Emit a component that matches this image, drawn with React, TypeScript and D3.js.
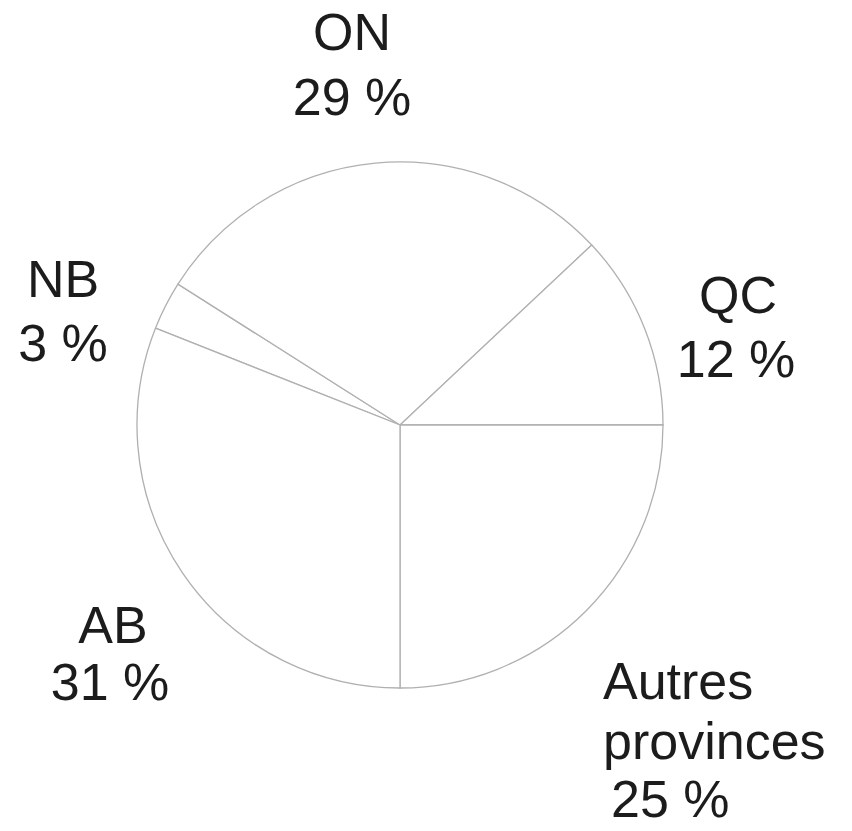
import React from 'react';
import * as d3 from 'd3';

// slices in clockwise order, starting at NB
const provinces = ['NB', 'ON', 'QC', 'Autres provinces', 'AB'];
const shares = [3, 29, 12, 25, 31];
const shareLabels = ['3 %', '29 %', '12 %', '25 %', '31 %'];

// label anchors (layout only)
const labelLines: string[][] = [['NB'], ['ON'], ['QC'], ['Autres', 'provinces'], ['AB']];
const labelPos = [
  { x: 63, y: 297, anchor: 'middle', dx2: 0, gap: 64 },
  { x: 352, y: 50, anchor: 'middle', dx2: 0, gap: 65 },
  { x: 738, y: 313, anchor: 'middle', dx2: -2, gap: 64 },
  { x: 603, y: 699, anchor: 'start', dx2: 8, gap: 60 },
  { x: 113, y: 643, anchor: 'middle', dx2: -3, gap: 57 },
];

const W = 852, H = 831;
const cx = 400, cy = 425, R = 263;

export default function App() {
  const total = d3.sum(shares);
  // "Autres provinces" slice begins at 3 o'clock
  const before = d3.sum(shares.slice(0, 3));
  const start = Math.PI / 2 - (before / total) * 2 * Math.PI;

  const pie = d3.pie<number>().sort(null).value(d => d)
    .startAngle(start).endAngle(start + 2 * Math.PI);
  const arc = d3.arc<d3.PieArcDatum<number>>().innerRadius(0).outerRadius(R);
  const arcs = pie(shares);

  return (
    <svg width={W} height={H} style={{ position: 'absolute', left: 0, top: 0, background: '#fff' }}
      fontFamily="'Liberation Sans', Arial, sans-serif">
      <g transform={`translate(${cx},${cy})`}>
        {arcs.map((a, i) => (
          <path key={provinces[i]} d={arc(a) || ''} fill="#fff" stroke="#b0b0b0" strokeWidth={1.3} />
        ))}
      </g>
      {labelPos.map((p, i) => {
        const lines = labelLines[i];
        const last = lines.length * p.gap;
        return (
          <text key={provinces[i]} fontSize={52} fill="#1c1c1c" textAnchor={p.anchor}>
            {lines.map((l, j) => (
              <tspan key={j} x={p.x} y={p.y + j * p.gap}>{l}</tspan>
            ))}
            <tspan x={p.x + p.dx2} y={Math.min(p.y + last, 817)}>{shareLabels[i]}</tspan>
          </text>
        );
      })}
    </svg>
  );
}
